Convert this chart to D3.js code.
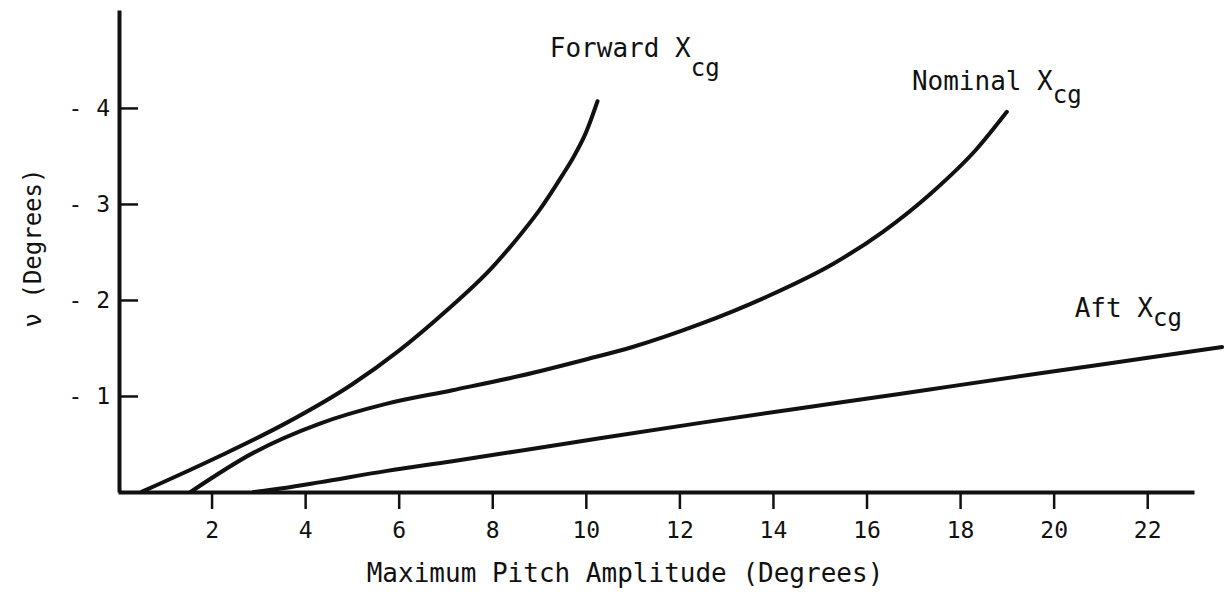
<!DOCTYPE html>
<html>
<head>
<meta charset="utf-8">
<script src="https://cdn.jsdelivr.net/npm/d3@7"></script>
<style>
    body { margin: 0; background: #fff; }
    text { font-family: "DejaVu Sans Mono", monospace; fill: #111; }
</style>
</head>
<body>
<svg id="chart" width="1230" height="602"></svg>
<script>

// Nu (deg) against maximum pitch amplitude (deg), one pair of arrays per cg position
var forwardPitch = [0.5, 2.2, 3.6, 5.0, 6.0, 7.0, 8.0, 8.5, 9.0, 9.5, 9.75, 10.0, 10.25];
var forwardNu    = [0, -0.38, -0.72, -1.12, -1.47, -1.88, -2.34, -2.62, -2.93, -3.3, -3.5, -3.74, -4.07];

var nominalPitch = [1.55, 2.9, 4.3, 5.75, 7.15, 8.6, 10.0, 11.0, 12.45, 13.85, 15.3, 16.35, 17.4, 18.35, 19.0];
var nominalNu    = [0, -0.41, -0.71, -0.92, -1.06, -1.21, -1.38, -1.51, -1.75, -2.03, -2.38, -2.71, -3.12, -3.57, -3.96];

var aftPitch = [2.9, 3.6, 4.3, 5.75, 7.15, 8.6, 10.3, 12.45, 14.55, 16.7, 17.8, 19.9, 22.05, 23.6];
var aftNu    = [0, -0.045, -0.1, -0.22, -0.32, -0.43, -0.56, -0.72, -0.87, -1.02, -1.1, -1.25, -1.4, -1.51];

var seriesNames = ["Forward X", "Nominal X", "Aft X"];
var xTicks = [2, 4, 6, 8, 10, 12, 14, 16, 18, 20, 22];
var yTicks = [-1, -2, -3, -4];

var svg = d3.select("#chart");

// scales (nu is negative, plotted upwards)
var xScale = d3.scaleLinear().domain([0, 23]).range([118, 1194]);
var yScale = d3.scaleLinear().domain([0, -5.02]).range([492, 10]);

var series = [
    { name: seriesNames[0], pts: d3.zip(forwardPitch, forwardNu) },
    { name: seriesNames[1], pts: d3.zip(nominalPitch, nominalNu) },
    { name: seriesNames[2], pts: d3.zip(aftPitch, aftNu) }
];

// label placement, in data units
var labelPlace = [
    { x: 9.23, y: -4.53, sub: 19 },
    { x: 16.97, y: -4.19, sub: 13 },
    { x: 20.45, y: -1.82, sub: 9 }
];

// x axis
var xAxis = svg.append("g")
    .attr("transform", "translate(0," + yScale(0) + ")")
    .call(d3.axisBottom(xScale)
        .tickValues(xTicks)
        .tickSizeInner(17)
        .tickSizeOuter(0)
        .tickPadding(13));
xAxis.select(".domain").attr("stroke", "#111").attr("stroke-width", 4);
xAxis.selectAll(".tick line").attr("stroke", "#111").attr("stroke-width", 2.5);
xAxis.selectAll(".tick text")
    .attr("fill", "#111")
    .style("font-size", "23px")
    .style("font-family", "DejaVu Sans Mono, monospace");

// y axis, ticks pointing inwards
var yAxis = svg.append("g")
    .attr("transform", "translate(" + (xScale(0) + 1) + ",0)")
    .call(d3.axisLeft(yScale)
        .tickValues(yTicks)
        .tickSizeInner(-19)
        .tickSizeOuter(0)
        .tickPadding(9)
        .tickFormat(function (d) { return "- " + Math.abs(d); }));
yAxis.select(".domain").attr("stroke", "#111").attr("stroke-width", 4);
yAxis.selectAll(".tick line").attr("stroke", "#111").attr("stroke-width", 2.5);
yAxis.selectAll(".tick text")
    .attr("fill", "#111")
    .style("font-size", "23px")
    .style("font-family", "DejaVu Sans Mono, monospace");

// curves
var line = d3.line()
    .x(function (d) { return xScale(d[0]); })
    .y(function (d) { return yScale(d[1]); })
    .curve(d3.curveMonotoneX);

svg.selectAll(".curve")
    .data(series)
    .enter()
    .append("path")
    .attr("class", "curve")
    .attr("fill", "none")
    .attr("stroke", "#111")
    .attr("stroke-width", 4)
    .attr("stroke-linecap", "round")
    .attr("d", function (d) { return line(d.pts); });

// curve labels with X_cg subscript
svg.selectAll(".curve-label")
    .data(series)
    .enter()
    .append("text")
    .attr("class", "curve-label")
    .attr("x", function (d, i) { return xScale(labelPlace[i].x); })
    .attr("y", function (d, i) { return yScale(labelPlace[i].y); })
    .style("font-size", "26px")
    .each(function (d, i) {
        var t = d3.select(this);
        t.append("tspan").text(d.name);
        t.append("tspan")
            .attr("dy", labelPlace[i].sub)
            .style("font-size", "24px")
            .text("cg");
    });

// axis titles
svg.append("text")
    .attr("x", 625)
    .attr("y", 582)
    .style("text-anchor", "middle")
    .style("font-size", "26px")
    .text("Maximum Pitch Amplitude (Degrees)");

svg.append("text")
    .attr("transform", "translate(41,248) rotate(-90)")
    .style("text-anchor", "middle")
    .style("font-size", "24px")
    .text("ν (Degrees)");

</script>
</body>
</html>
